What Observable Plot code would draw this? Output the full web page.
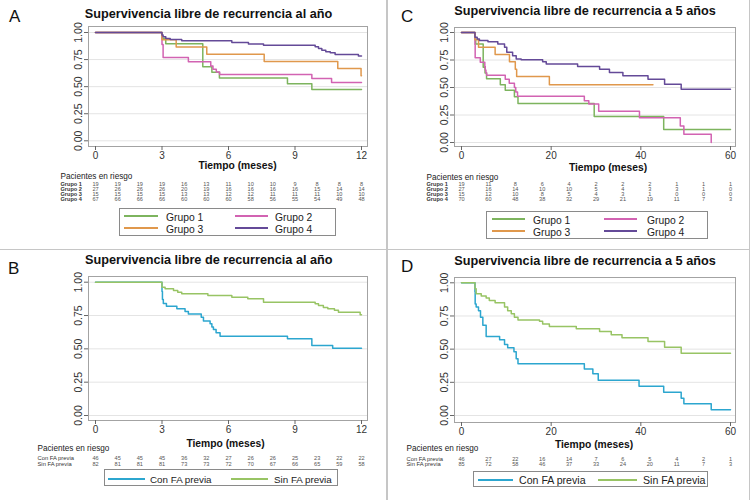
<!DOCTYPE html>
<html><head><meta charset="utf-8">
<script src="https://cdn.jsdelivr.net/npm/d3@7"></script>
<script src="https://cdn.jsdelivr.net/npm/@observablehq/plot@0.6"></script>
<style>
body{margin:0;background:#fff;font-family:"Liberation Sans",Arial,sans-serif;}
#root{position:relative;width:750px;height:500px;overflow:hidden;background:#fff}
.abs{position:absolute;white-space:nowrap;line-height:normal}
.title{font-weight:bold;font-size:12.7px;color:#111;transform:translateX(-50%)}
.letter{font-size:17px;color:#111}
.legend{position:absolute;border:1px solid #8a8a8a;box-sizing:border-box;background:#fff}
.sw{position:absolute;height:2px}
.lt{position:absolute;color:#222;transform:translateY(-50%);white-space:nowrap;line-height:normal}
.vdiv{position:absolute;left:386px;top:0;width:1.5px;height:500px;background:#c6c6c6}
.hdiv{position:absolute;left:0;top:248.5px;width:750px;height:1.5px;background:#c6c6c6}
.rdiv{position:absolute;left:748.5px;top:0;width:1.5px;height:500px;background:#c6c6c6}
</style></head>
<body><div id="root"></div>
<script>
// ---------- data ----------
const yTicks = [0, 0.25, 0.5, 0.75, 1];
const xTicksYear = [0, 3, 6, 9, 12];
const xTicks5y = [0, 20, 40, 60];
const riskTimesYear = [0,1,2,3,4,5,6,7,8,9,10,11,12];
const riskTimes5y = [0,6,12,18,24,30,36,42,48,54,60];

const grupoNames = ["Grupo 1", "Grupo 2", "Grupo 3", "Grupo 4"];
const grupoColors = ["#7db45e", "#d263b2", "#e0984c", "#644a98"];
const faNames = ["Con FA previa", "Sin FA previa"];
const faColors = ["#2ca6cf", "#98c464"];

// Panel A: 1-year, by group  [months, survival]
const A_g1 = [[0,1],[3.0,0.947],[3.17,0.895],[4.84,0.684],[5.25,0.632],[5.59,0.579],[8.66,0.526],[9.76,0.474],[12,0.474]];
const A_g2 = [[0,1],[3.0,0.889],[3.05,0.77],[4.19,0.73],[5.2,0.69],[5.3,0.66],[5.45,0.635],[5.6,0.612],[9.76,0.575],[10.65,0.538],[12,0.538]];
const A_g3 = [[0,1],[3.0,0.933],[3.64,0.867],[5.02,0.8],[7.61,0.733],[10.93,0.667],[11.98,0.6],[12,0.6]];
const A_g4 = [[0,1],[3.0,0.976],[3.05,0.96],[3.17,0.945],[3.37,0.935],[3.89,0.923],[6.15,0.908],[6.9,0.893],[7.58,0.883],[9.91,0.868],[10.06,0.852],[10.21,0.837],[10.39,0.822],[10.59,0.812],[10.81,0.797],[11.86,0.782],[12,0.782]];

// Panel C: 5-year, by group
const C_g1 = [[0,1],[3.0,0.947],[3.17,0.895],[4.84,0.684],[5.25,0.632],[5.59,0.579],[8.66,0.526],[9.76,0.474],[11.8,0.416],[12.6,0.355],[29.6,0.237],[45.1,0.118],[60,0.118]];
const C_g2 = [[0,1],[3.0,0.889],[3.05,0.77],[4.19,0.73],[5.2,0.69],[5.3,0.66],[5.45,0.635],[5.6,0.612],[9.76,0.575],[10.65,0.538],[11.8,0.5],[12.1,0.46],[12.5,0.42],[27.4,0.38],[28.4,0.35],[30.6,0.285],[39.7,0.225],[48.8,0.15],[49.6,0.075],[55.7,0]];
const C_g3 = [[0,1],[3.0,0.933],[3.8,0.867],[7.5,0.8],[10.7,0.733],[12.0,0.667],[12.3,0.6],[19.6,0.525],[42.7,0.525]];
const C_g4 = [[0,1],[3.0,0.957],[3.5,0.942],[4.0,0.927],[5.9,0.917],[8.1,0.896],[9.6,0.865],[10.1,0.82],[11.4,0.789],[12.2,0.758],[13.3,0.752],[18.1,0.734],[18.9,0.713],[25.9,0.691],[30.8,0.667],[33.0,0.636],[36.0,0.606],[41.6,0.575],[45.3,0.529],[49.0,0.485],[60,0.485]];

// Panel B: 1-year, by previous AF
const B_con = [[0,1],[3.0,0.93],[3.02,0.87],[3.06,0.84],[3.2,0.82],[3.67,0.80],[4.04,0.78],[4.19,0.762],[4.77,0.737],[4.87,0.708],[5.17,0.688],[5.25,0.663],[5.32,0.645],[5.44,0.62],[5.62,0.595],[8.66,0.575],[9.76,0.525],[10.7,0.505],[12,0.505]];
const B_sin = [[0,1],[3.0,0.963],[3.14,0.95],[3.52,0.938],[3.71,0.925],[3.89,0.913],[5.07,0.9],[6.15,0.888],[6.87,0.875],[7.58,0.85],[9.91,0.838],[10.06,0.825],[10.28,0.81],[10.48,0.80],[10.78,0.79],[10.96,0.775],[11.94,0.755],[12,0.755]];

// Panel D: 5-year, by previous AF
const D_con = [[0,1],[3.0,0.93],[3.05,0.84],[3.27,0.817],[3.79,0.79],[4.24,0.74],[4.76,0.68],[5.5,0.595],[8.5,0.57],[9.6,0.535],[10.3,0.51],[11.7,0.48],[12.2,0.427],[12.6,0.39],[27.4,0.35],[29.3,0.314],[30.5,0.265],[39.6,0.22],[45.1,0.176],[49,0.13],[49.6,0.088],[55.7,0.043],[60,0.043]];
const D_sin = [[0,1],[3.0,0.955],[3.27,0.917],[4.4,0.9],[5.5,0.885],[6.2,0.867],[7.5,0.85],[9.6,0.817],[10.3,0.79],[11.1,0.766],[11.8,0.74],[12.6,0.72],[17.4,0.71],[18.1,0.69],[19.6,0.67],[25.6,0.653],[30.8,0.633],[33.4,0.608],[35.8,0.585],[41.6,0.558],[45.3,0.515],[49.0,0.47],[60,0.47]];

// Patients at risk
const riskA_g1 = [19,19,19,19,16,13,11,10,10,9,8,8,8];
const riskA_g2 = [27,26,26,26,20,19,16,16,16,16,15,14,14];
const riskA_g3 = [15,15,15,15,13,13,12,12,11,11,11,10,10];
const riskA_g4 = [67,66,66,66,60,60,60,58,56,55,54,49,48];
const riskC_g1 = [19,11,8,6,4,2,2,2,1,1,1];
const riskC_g2 = [27,16,14,10,10,5,4,3,3,1,0];
const riskC_g3 = [15,12,10,8,5,4,3,1,0,0,0];
const riskC_g4 = [70,60,48,38,32,29,21,19,11,7,3];
const riskB_con = [46,45,45,45,36,32,27,26,26,25,23,22,22];
const riskB_sin = [82,81,81,81,73,73,72,70,67,66,65,59,58];
const riskD_con = [46,27,22,16,14,7,6,5,4,2,1];
const riskD_sin = [85,72,58,46,37,33,24,20,11,7,3];

const titleYear = "Supervivencia libre de recurrencia al año";
const title5y = "Supervivencia libre de recurrencia a 5 años";
const xLabel = "Tiempo (meses)";
const riskHeader = "Pacientes en riesgo";

// ---------- drawing ----------
const root = document.getElementById("root");
function el(cls, css, text) {
  const d = document.createElement("div");
  d.className = cls;
  Object.assign(d.style, css);
  if (text != null) d.textContent = text;
  root.appendChild(d);
  return d;
}
el("vdiv", {}); el("hdiv", {}); el("rdiv", {});

function panel(p) {
  const marks = [
    Plot.ruleY(yTicks, {stroke: "#e4e4e4", strokeWidth: 1}),
    Plot.frame({stroke: "#a3a3a3", strokeWidth: 1}),
    ...p.series.map(s => Plot.line(s.data, {x: d => d[0], y: d => d[1], curve: "step-after", stroke: s.color, strokeWidth: 1.5})),
    Plot.axisX({ticks: p.xTicks, tickSize: 4, tickPadding: 1, fontSize: 10, label: null, tickFormat: d => String(d), fill: "#333"}),
    Plot.axisY({ticks: yTicks, tickSize: 4, label: null, tickFormat: () => ""}),
    Plot.text(yTicks, {y: d => d, text: d => d.toFixed(2), frameAnchor: "left", textAnchor: "middle", lineAnchor: "middle", dx: -10, rotate: -90, fontSize: 10.5, fill: "#333"}),
    Plot.text([xLabel], {text: d => d, frameAnchor: "bottom", lineAnchor: "middle", dx: p.xlabDx, dy: p.xlabDy, fontWeight: "bold", fontSize: 10.3, fill: "#111"}),
    Plot.text([riskHeader], {text: d => d, frameAnchor: "bottom-left", lineAnchor: "middle", dx: p.rowDx, dy: p.headDy, textAnchor: "start", fontSize: 8.2, fill: "#222"}),
  ];
  p.series.forEach((s, i) => {
    marks.push(Plot.text([s.name], {text: d => d, frameAnchor: "bottom-left", lineAnchor: "middle", dx: p.rowDx, dy: p.rowDy[i], textAnchor: "start", fontSize: p.rowLabelSize, fontWeight: p.rowBold ? "bold" : "normal", fill: "#333"}));
    marks.push(Plot.text(s.risk, {x: (d, j) => p.riskTimes[j], text: d => String(d), frameAnchor: "bottom", lineAnchor: "middle", dy: p.rowDy[i], fontSize: 5.6, fill: "#555"}));
  });
  const svg = Plot.plot({
    width: p.w, height: p.h,
    marginLeft: p.m[0], marginTop: p.m[1], marginRight: p.m[2], marginBottom: p.m[3],
    x: {domain: p.xDomain, insetLeft: p.xi[0], insetRight: p.xi[1]},
    y: {domain: [0, 1], insetTop: p.yi[0], insetBottom: p.yi[1]},
    style: {fontFamily: "'Liberation Sans', Arial, sans-serif", color: "#666", background: "transparent", overflow: "visible"},
    marks
  });
  svg.style.position = "absolute";
  svg.style.left = p.left + "px";
  svg.style.top = p.top + "px";
  root.appendChild(svg);

  el("abs letter", {left: p.letter[1] + "px", top: p.letter[2] + "px"}, p.letter[0]);
  el("abs title", {left: p.title[1] + "px", top: p.title[2] + "px"}, p.title[0]);

  const lg = p.legend;
  const box = el("legend", {left: lg.box[0] + "px", top: lg.box[1] + "px", width: lg.box[2] + "px", height: lg.box[3] + "px"});
  p.series.forEach((s, i) => {
    const it = lg.items[i];
    const sw = document.createElement("div");
    sw.className = "sw";
    Object.assign(sw.style, {left: Math.round(it[0] - lg.box[0] - 1) + "px", top: Math.round(it[2] - lg.box[1] - 2) + "px", width: (it[1] - it[0]) + "px", background: s.color});
    box.appendChild(sw);
    const t = document.createElement("div");
    t.className = "lt";
    t.textContent = s.name;
    Object.assign(t.style, {left: (it[3] - lg.box[0] - 1) + "px", top: (it[4] - lg.box[1] - 1) + "px", fontSize: lg.fs + "px"});
    box.appendChild(t);
  });
}

panel({
  left: 0, top: 0, w: 385, h: 205, m: [88, 26, 18, 59], xi: [7, 6], yi: [6, 5.7],
  xDomain: [0, 12], xTicks: xTicksYear, riskTimes: riskTimesYear,
  xlabDx: 9.5, xlabDy: 19.5, rowDx: -28, headDy: 29.5, rowDy: [37.3, 42.3, 47.3, 52.3], rowLabelSize: 5.6, rowBold: true,
  series: [
    {name: grupoNames[0], color: grupoColors[0], data: A_g1, risk: riskA_g1},
    {name: grupoNames[1], color: grupoColors[1], data: A_g2, risk: riskA_g2},
    {name: grupoNames[2], color: grupoColors[2], data: A_g3, risk: riskA_g3},
    {name: grupoNames[3], color: grupoColors[3], data: A_g4, risk: riskA_g4}
  ],
  letter: ["A", 9, 6.8], title: [titleYear, 208.5, 6.9],
  legend: {box: [119, 208, 217, 28], fs: 10.3, items: [
    [124, 158, 216, 166, 216.5], [235, 268, 216, 275, 216.5],
    [124, 158, 228, 166, 229], [235, 268, 228, 275, 229]]}
});

panel({
  left: 387, top: 0, w: 363, h: 205, m: [67, 27, 15, 59], xi: [7, 5], yi: [5, 4],
  xDomain: [0, 60], xTicks: xTicks5y, riskTimes: riskTimes5y,
  xlabDx: 13, xlabDy: 21, rowDx: -28, headDy: 30.5, rowDy: [37.5, 42.5, 47.5, 52.5], rowLabelSize: 5.6, rowBold: true,
  series: [
    {name: grupoNames[0], color: grupoColors[0], data: C_g1, risk: riskC_g1},
    {name: grupoNames[1], color: grupoColors[1], data: C_g2, risk: riskC_g2},
    {name: grupoNames[2], color: grupoColors[2], data: C_g3, risk: riskC_g3},
    {name: grupoNames[3], color: grupoColors[3], data: C_g4, risk: riskC_g4}
  ],
  letter: ["C", 401, 6.8], title: [title5y, 585, 4.3],
  legend: {box: [486, 211, 222, 28], fs: 10.3, items: [
    [492, 525, 219, 533, 219.5], [604, 637, 219, 647, 219.5],
    [492, 525, 231, 533, 231.5], [604, 637, 231, 647, 231.5]]}
});

panel({
  left: 0, top: 250, w: 385, h: 245, m: [88, 26, 18, 75], xi: [7, 6], yi: [5.7, 5],
  xDomain: [0, 12], xTicks: xTicksYear, riskTimes: riskTimesYear,
  xlabDx: -2.5, xlabDy: 23, rowDx: -51, headDy: 28.3, rowDy: [37.3, 43.3], rowLabelSize: 5.8, rowBold: false,
  series: [
    {name: faNames[0], color: faColors[0], data: B_con, risk: riskB_con},
    {name: faNames[1], color: faColors[1], data: B_sin, risk: riskB_sin}
  ],
  letter: ["B", 8, 258.5], title: [titleYear, 208.8, 252.6],
  legend: {box: [104, 469, 234, 17], fs: 9.8, items: [
    [108, 145, 479, 150, 478.5], [231, 268, 479, 274, 478.5]]}
});

panel({
  left: 387, top: 250, w: 363, h: 245, m: [67, 27, 15, 73], xi: [7, 5], yi: [5.3, 7],
  xDomain: [0, 60], xTicks: xTicks5y, riskTimes: riskTimes5y,
  xlabDx: -1, xlabDy: 22, rowDx: -48, headDy: 26.3, rowDy: [36.3, 42], rowLabelSize: 5.8, rowBold: false,
  series: [
    {name: faNames[0], color: faColors[0], data: D_con, risk: riskD_con},
    {name: faNames[1], color: faColors[1], data: D_sin, risk: riskD_sin}
  ],
  letter: ["D", 401, 256.8], title: [title5y, 585, 254.3],
  legend: {box: [473, 471, 235, 16], fs: 10.6, items: [
    [478, 513, 480, 519, 479.5], [598, 637, 480, 643, 479.5]]}
});
</script>
</body></html>
